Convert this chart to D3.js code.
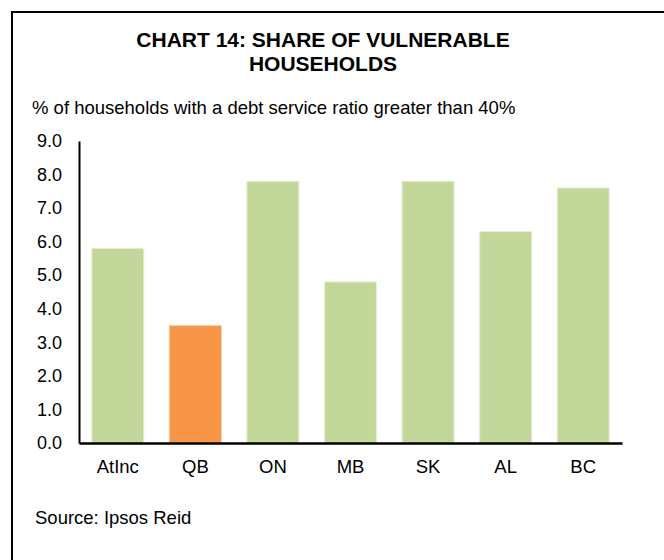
<!DOCTYPE html>
<html>
<head>
<meta charset="utf-8">
<script src="https://cdn.jsdelivr.net/npm/d3@7"></script>
<style>
  html, body { margin: 0; padding: 0; background: #fff; }
  svg { display: block; font-family: "Liberation Sans", Arial, sans-serif; }
</style>
</head>
<body>
<svg id="chart" width="664" height="560"></svg>
<script>
// Share of households with a debt service ratio above 40%, by province
const categories = ["AtInc", "QB", "ON", "MB", "SK", "AL", "BC"];
const values = [5.8, 3.5, 7.8, 4.8, 7.8, 6.3, 7.6];
const highlighted = ["QB"];
const yTicks = [0, 1, 2, 3, 4, 5, 6, 7, 8, 9];

const titleLines = ["CHART 14: SHARE OF VULNERABLE", "HOUSEHOLDS"];
const subtitle = "% of households with a debt service ratio greater than 40%";
const source = "Source: Ipsos Reid";

const svg = d3.select("#chart");

// frame: top and left rules
svg.append("line").attr("x1", 11).attr("x2", 664).attr("y1", 12).attr("y2", 12)
  .attr("stroke", "#000").attr("stroke-width", 2);
svg.append("line").attr("x1", 12).attr("x2", 12).attr("y1", 11).attr("y2", 560)
  .attr("stroke", "#000").attr("stroke-width", 2);

// title
svg.append("g").selectAll("text").data(titleLines).join("text")
  .attr("x", 323).attr("y", (d, i) => 47 + i * 24)
  .attr("text-anchor", "middle")
  .attr("font-size", 21).attr("font-weight", "bold")
  .text(d => d);

svg.append("text").attr("x", 32).attr("y", 114)
  .attr("font-size", 18.5).text(subtitle);

const plot = { left: 79, right: 622, top: 141, bottom: 443 };

const x = d3.scaleBand().domain(categories)
  .range([plot.left, plot.right]).paddingInner(0.33).paddingOuter(0.165);
const y = d3.scaleLinear().domain([0, 9]).range([plot.bottom, plot.top]);

// bars
svg.append("g").selectAll("rect").data(categories).join("rect")
  .attr("x", d => x(d))
  .attr("width", x.bandwidth())
  .attr("y", (d, i) => y(values[i]))
  .attr("height", (d, i) => y(0) - y(values[i]))
  .attr("fill", d => highlighted.includes(d) ? "#f79646" : "#c4d79b")
  .attr("stroke", d => highlighted.includes(d) ? "#fbc9a0" : "#e4eed0")
  .attr("stroke-width", 1);

// y axis
const yAxis = svg.append("g").attr("transform", `translate(${plot.left},0)`)
  .call(d3.axisLeft(y).tickValues(yTicks).tickFormat(d3.format(".1f")).tickSize(0).tickPadding(17));
yAxis.select(".domain").attr("stroke", "#000").attr("stroke-width", 2);
yAxis.selectAll("text").attr("font-size", 18).attr("fill", "#000")
  .attr("font-family", "Liberation Sans, Arial, sans-serif");

// x axis
const xAxis = svg.append("g").attr("transform", `translate(0,${plot.bottom})`)
  .call(d3.axisBottom(x).tickSize(0).tickPadding(17));
xAxis.select(".domain").attr("stroke", "#000").attr("stroke-width", 2.5);
xAxis.selectAll("text").attr("font-size", 18.5).attr("fill", "#000")
  .attr("font-family", "Liberation Sans, Arial, sans-serif");

svg.append("text").attr("x", 35).attr("y", 524)
  .attr("font-size", 18.5).text(source);
</script>
</body>
</html>
